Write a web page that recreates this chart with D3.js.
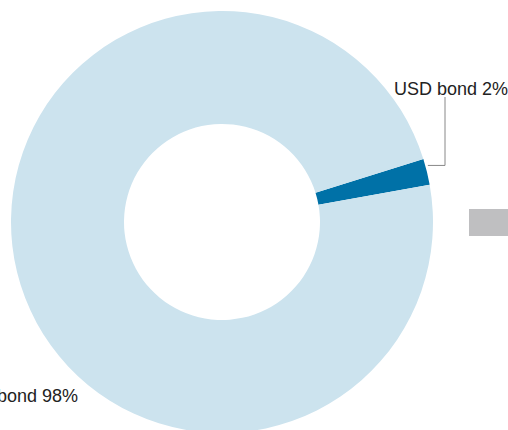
<!DOCTYPE html>
<html>
<head>
<meta charset="utf-8">
<script src="https://cdn.jsdelivr.net/npm/d3@7"></script>
<style>
  html, body { margin: 0; padding: 0; background: #fff; overflow: hidden; }
  svg { display: block; }
  text { font-family: "Liberation Sans", Arial, Helvetica, sans-serif; fill: #222; }
</style>
</head>
<body>
<svg id="chart" width="508" height="430"></svg>
<script>
// Portfolio split by bond currency
const categories = ["USD bond", "CNY bond"];
const shares = [2, 98];
const colors = ["#0071a7", "#cce3ee"];

const svg = d3.select("#chart");
const cx = 222, cy = 222;
const outerR = 211, innerR = 98;

// Rotate so the small slice sits just above 3 o'clock
const offset = 72.6 * Math.PI / 180;
const pie = d3.pie().sort(null).value(d => d.v)
  .startAngle(offset).endAngle(offset + 2 * Math.PI);
const arcs = pie(categories.map((c, i) => ({ c, v: shares[i] })));

const arc = d3.arc().innerRadius(innerR).outerRadius(outerR);

const g = svg.append("g").attr("transform", `translate(${cx},${cy})`);
g.selectAll("path").data(arcs).join("path")
  .attr("d", arc)
  .attr("fill", (d, i) => colors[i]);

// Leader line for the small slice
const a0 = arcs[0];
const mid = (a0.startAngle + a0.endAngle) / 2;
const px = cx + (outerR + 1) * Math.sin(mid);
const py = cy - (outerR + 1) * Math.cos(mid) - 6;
svg.append("path")
  .attr("d", `M${px},${py}H445V97`)
  .attr("fill", "none")
  .attr("stroke", "#888")
  .attr("stroke-width", 1);

svg.append("text")
  .attr("x", 394).attr("y", 95)
  .attr("font-size", 18)
  .text(`${categories[0]} ${shares[0]}%`);

svg.append("text")
  .attr("x", 78).attr("y", 402)
  .attr("text-anchor", "end")
  .attr("font-size", 18)
  .text(`${categories[1]} ${shares[1]}%`);

// Legend swatch partly outside the frame
svg.append("rect")
  .attr("x", 469).attr("y", 209)
  .attr("width", 60).attr("height", 27)
  .attr("fill", "#bfbfc1");
</script>
</body>
</html>
